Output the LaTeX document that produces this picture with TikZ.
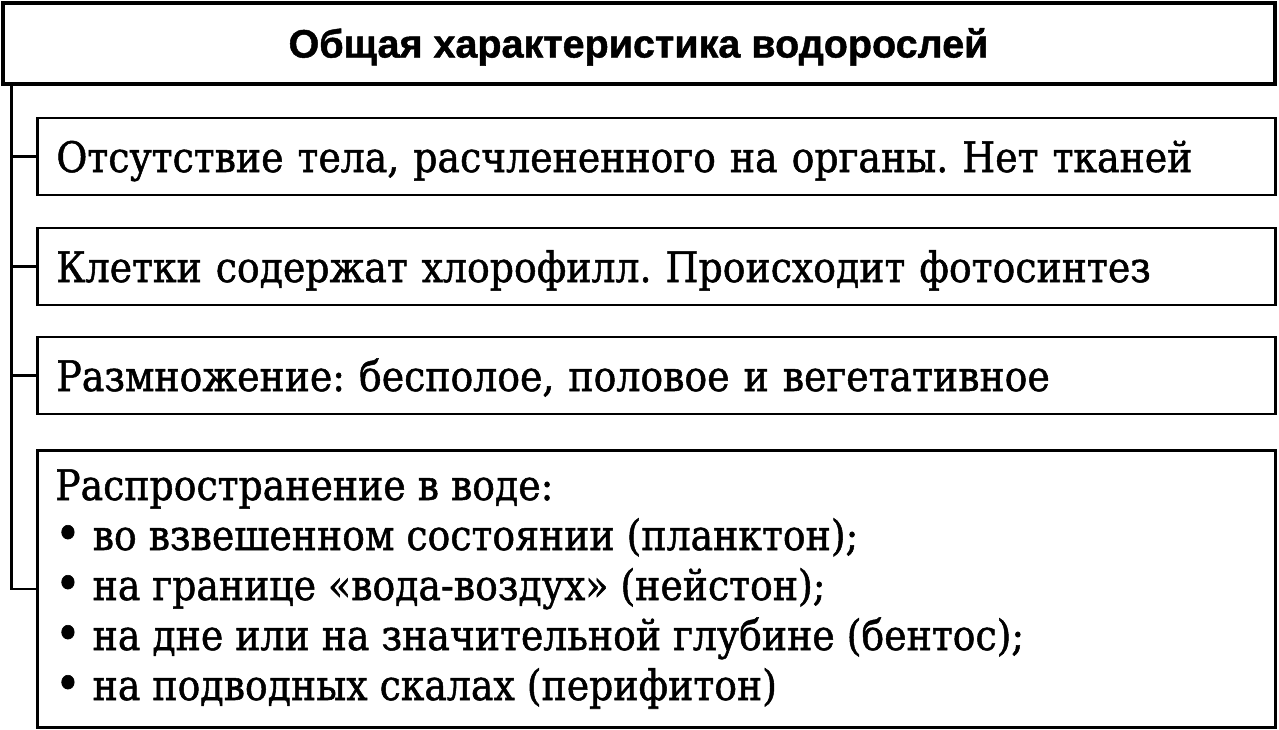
\documentclass[tikz,border=0pt]{standalone}
\usepackage{fontspec}
\newfontfamily\titlefont[FakeBold=1.2]{Liberation Sans}
\newfontfamily\bodyfont[FakeStretch=0.9,FakeBold=1.2]{DejaVu Serif}
\usetikzlibrary{calc}
\frenchspacing
\newcommand\bul{{\fontsize{48pt}{50pt}\selectfont•}}
\tikzset{
  titlebox/.style={draw, line width=4pt, minimum width=1272pt, minimum height=81pt, inner sep=0pt,
    font=\titlefont\bfseries\fontsize{39.5pt}{40pt}\selectfont, text height=28pt, text depth=0pt},
  itembox/.style={draw, line width=2.8pt, minimum width=1238pt, minimum height=77pt, anchor=west,
    inner xsep=19pt, inner ysep=0pt, text width=1200pt, align=left,
    font=\bodyfont\fontsize{42pt}{50pt}\selectfont, text height=31pt, text depth=0pt},
  bigbox/.style={draw, line width=2.8pt, minimum width=1238pt, minimum height=277pt, anchor=north west, inner sep=0pt},
  line/.style={anchor=base west, inner sep=0pt, font=\bodyfont\fontsize{42pt}{50pt}\selectfont},
  conn/.style={line width=2.4pt}
}
\begin{document}
\begin{tikzpicture}[x=1pt,y=-1pt]
\useasboundingbox (0,0) rectangle (1279,729);
\node[titlebox] (title) at (638.5,43.5) {Общая характеристика водорослей};
\node[itembox] (b1) at (36,156.5) {Отсутствие тела, расчлененного на органы. Нет тканей};
\node[itembox] (b2) at (36,266.5) {Клетки содержат хлорофилл. Происходит фотосинтез};
\node[itembox] (b3) at (36,375.5) {Размножение: бесполое, половое и вегетативное};
\node[bigbox] (b4) at (36,449) {};
\node[line] (l1) at (55,500) {Распространение в воде:};
\node[line] (l2) at (55,550) {\bul\ во взвешенном состоянии (планктон);};
\node[line] (l3) at (55,600) {\bul\ на границе «вода-воздух» (нейстон);};
\node[line] (l4) at (55,650) {\bul\ на дне или на значительной глубине (бентос);};
\node[line] (l5) at (55,700) {\bul\ на подводных скалах (перифитон)};
\coordinate (trunk) at ($(title.south west)+(11,0)$);
\draw[conn] (trunk) |- (b4.west);
\draw[conn] (trunk) |- (b1.west);
\draw[conn] (trunk) |- (b2.west);
\draw[conn] (trunk) |- (b3.west);
\end{tikzpicture}
\end{document}
